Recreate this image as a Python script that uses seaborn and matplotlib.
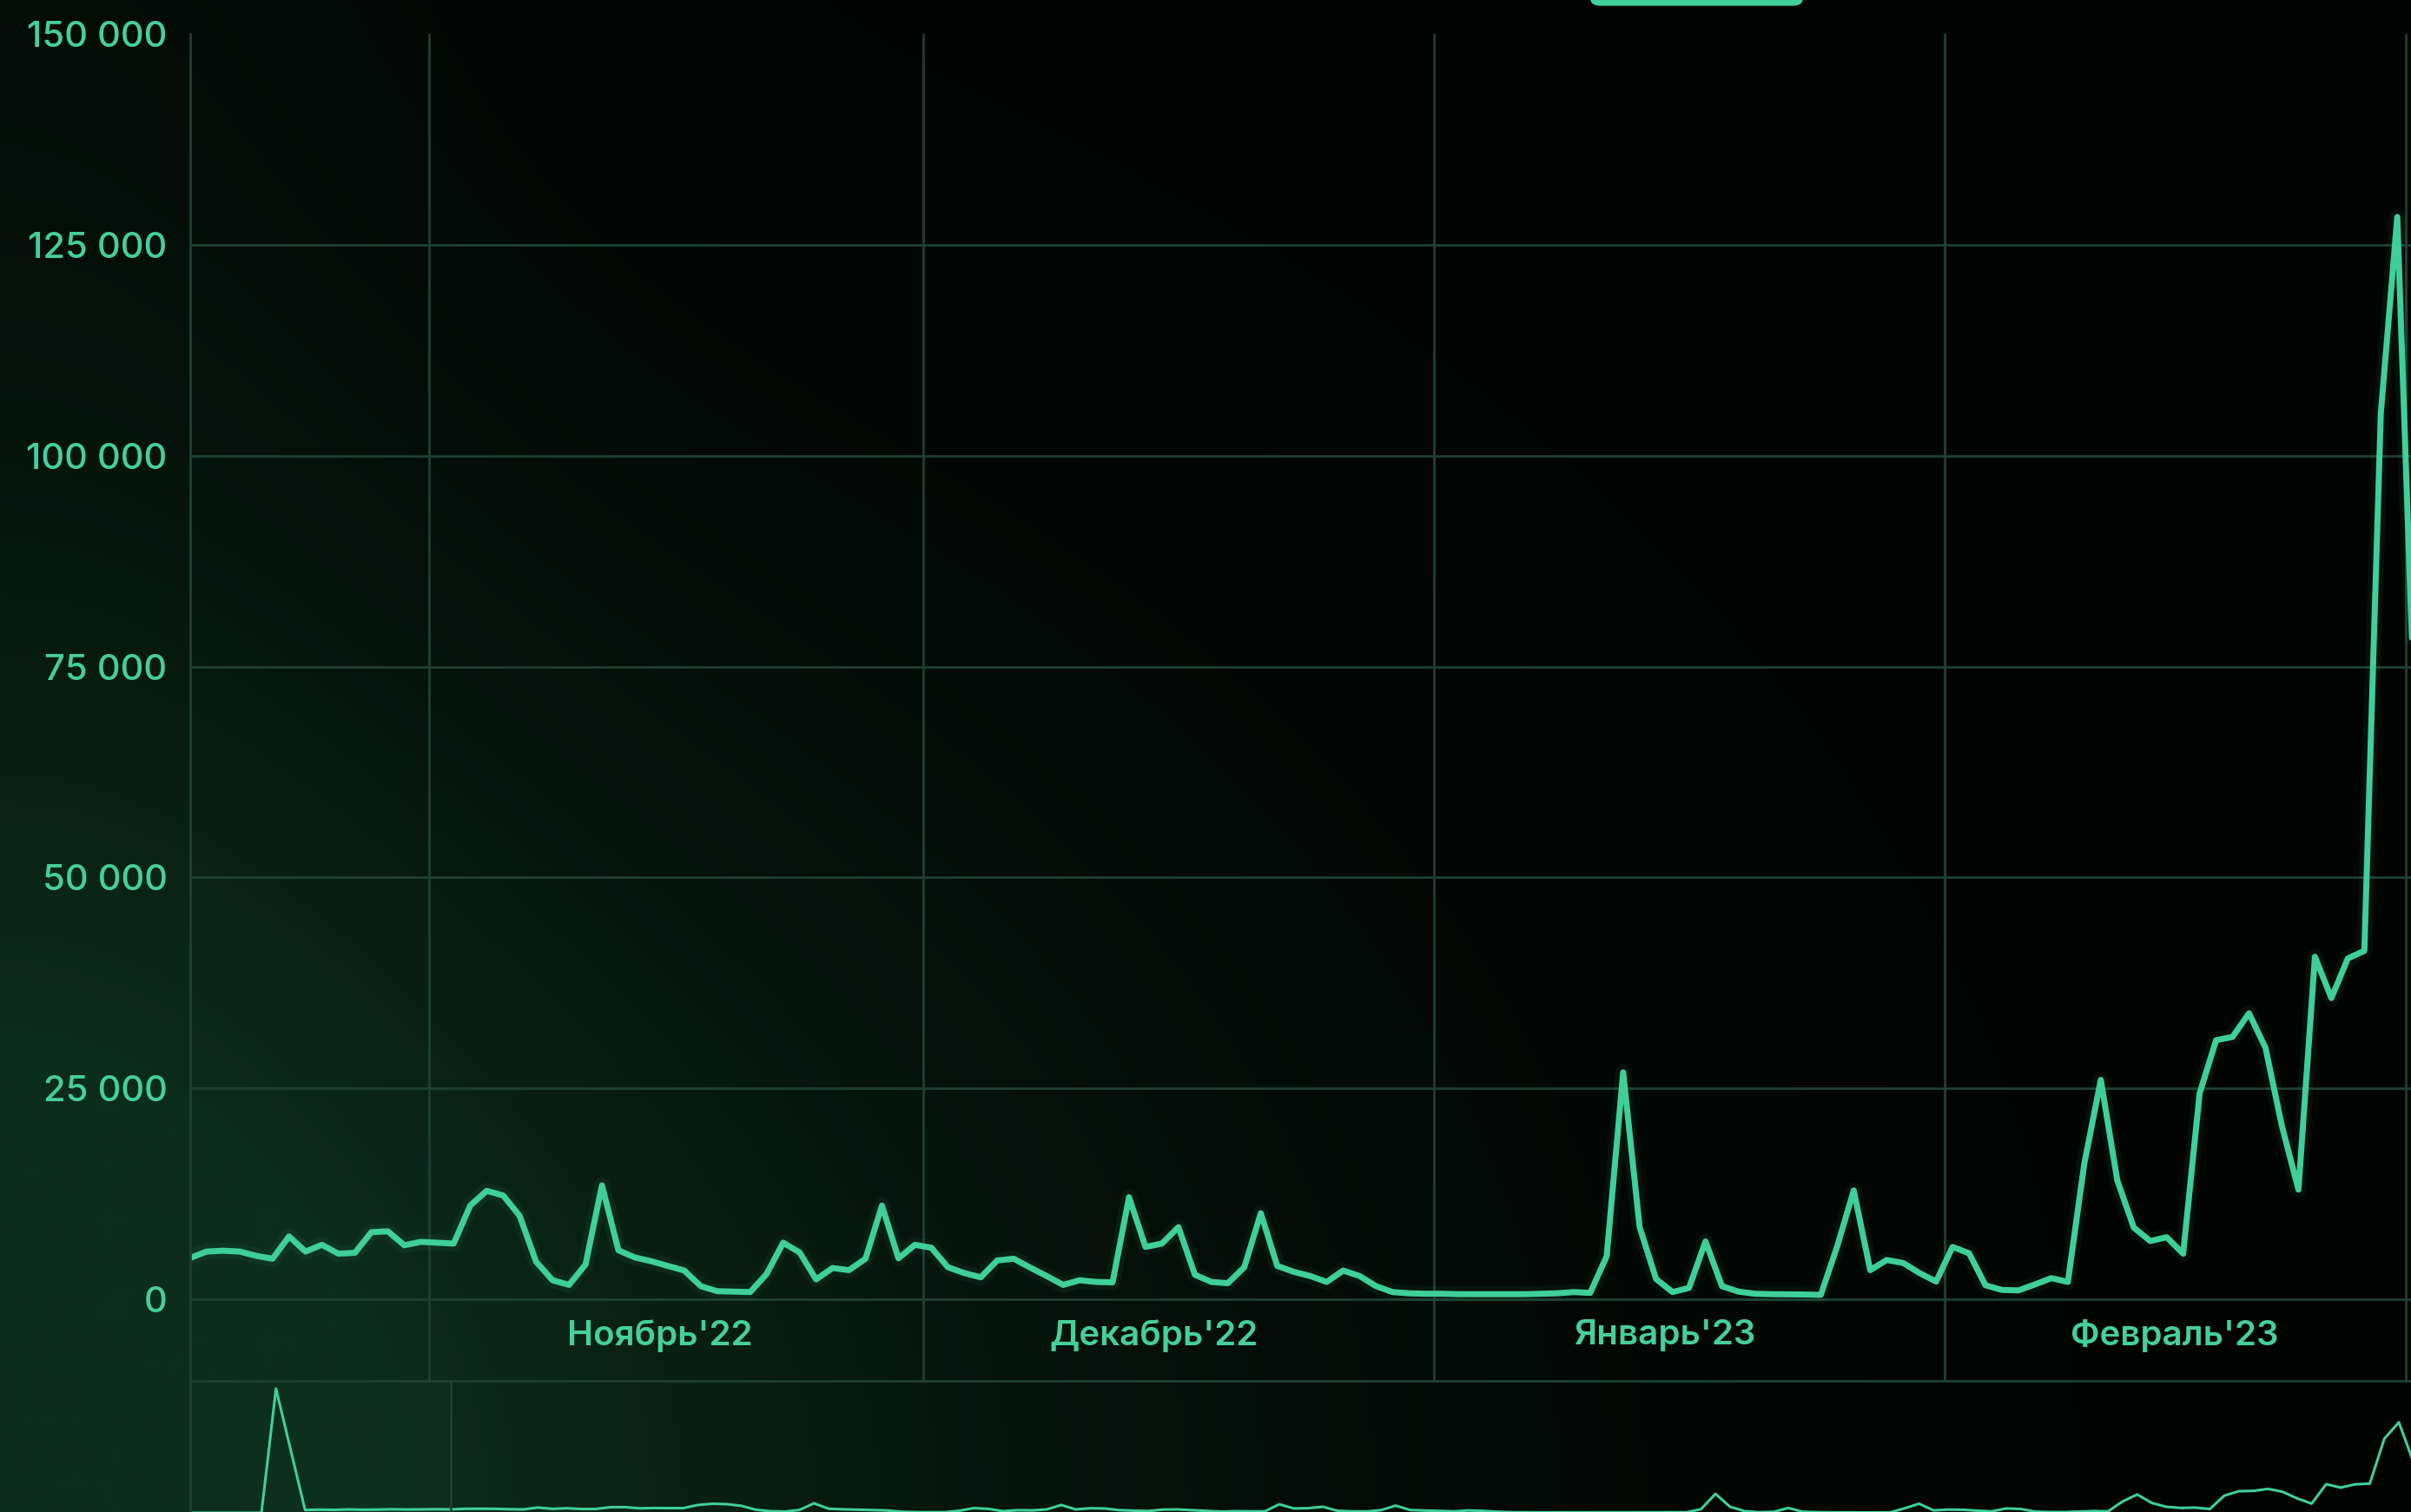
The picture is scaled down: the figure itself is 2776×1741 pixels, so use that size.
import numpy as np
import pandas as pd
import matplotlib
matplotlib.use("Agg")
import matplotlib.pyplot as plt
import matplotlib.ticker as mticker
from matplotlib.patches import FancyBboxPatch
import seaborn as sns

# Дневные значения (основной график), первый день 17.10.2022
start_date = "2022-10-17 12:00"
values = [
    4900, 5650, 5750, 5650, 5150, 4800, 7450, 5650, 6450, 5400,
    5500, 7950, 8050, 6400, 6800, 6700, 6600, 11100, 12850, 12300,
    9900, 4450, 2250, 1700, 4100, 13500, 5800, 4950, 4500, 3950,
    3400, 1550, 950, 900, 850, 3000, 6700, 5550, 2350, 3700,
    3450, 4800, 11100, 4850, 6450, 6100, 3800, 3100, 2600, 4600,
    4800, 3750, 2750, 1700, 2250, 2050, 2000, 12100, 6200, 6600,
    8550, 2900, 2050, 1900, 3800, 10200, 3950, 3250, 2750, 2050,
    3400, 2750, 1550, 850, 700, 650, 650, 600, 600, 600,
    600, 600, 650, 700, 850, 750, 5100, 26900, 8550, 2400,
    850, 1350, 6850, 1550, 900, 650, 600, 580, 560, 520,
    6300, 12900, 3450, 4650, 4300, 3100, 2100, 6200, 5450, 1650,
    1100, 1050, 1750, 2500, 2050, 16100, 26000, 14100, 8500, 6900,
    7350, 5400, 24400, 30700, 31100, 33900, 29800, 20500, 13000, 40600,
    35700, 40400, 41300, 105000, 128300, 72000,
]

# Навигатор внизу: 18 дней до начала основного графика
nav_pre_values = [
    0, 0, 0, 0, 0, 0, 176000, 90000, 4000,
    4500, 4200, 4800, 4400, 4600, 5000, 4700, 4900, 5100,
]

y_ticks = [0, 25000, 50000, 75000, 100000, 125000, 150000]
month_starts = ["2022-11-01", "2022-12-01", "2023-01-01", "2023-02-01", "2023-03-01"]
month_label_dates = ["2022-11-15", "2022-12-15", "2023-01-15", "2023-02-15"]
month_labels = ["Ноябрь'22", "Декабрь'22", "Январь'23", "Февраль'23"]

# Цвета
line_c = "#3fcf9a"
text_c = "#45cf9e"
grid_c = "#1f4033"

W, H = 2776, 1741


def fmt_thousands(v, pos):
    return f"{int(v):,}".replace(",", " ")


def main():
    sns.set_theme(style="dark", rc={"axes.facecolor": "none", "figure.facecolor": "#020403"})
    plt.rcParams["font.family"] = ["Inter", "DejaVu Sans"]

    fig = plt.figure(figsize=(W / 100, H / 100), dpi=100)

    # фон с зелёным свечением слева снизу
    bg = fig.add_axes([0, 0, 1, 1], zorder=-5)
    u = np.linspace(0, 1, 555)[None, :]
    v = np.linspace(1, 0, 348)[:, None]
    w = np.exp(-((u / 0.45) ** 2 + (v / 0.55) ** 2)) + 0.3 * np.exp(-(u / 0.18) ** 2) * (1 - 0.4 * v)
    w = np.clip(w, 0, 1)
    base = np.array([2, 4, 3]) / 255
    glow = np.array([12, 44, 30]) / 255
    rgb = base + (glow - base) * w[..., None]
    bg.imshow(rgb, aspect="auto", extent=[0, 1, 0, 1], interpolation="bilinear")
    bg.axis("off")

    dates = pd.date_range(start_date, periods=len(values), freq="D")
    df = pd.DataFrame({"date": dates, "value": values})

    pre_dates = pd.date_range(end=dates[0] - pd.Timedelta(days=1), periods=len(nav_pre_values), freq="D")
    df_nav = pd.DataFrame({
        "date": list(pre_dates) + list(dates),
        "value": nav_pre_values + values,
    })

    left = 219 / W
    bottom = 1 - 1590 / H
    top = 1 - 39 / H
    ax = fig.add_axes([left, bottom, 1 - left, top - bottom], zorder=1)

    # свечение + линия
    sns.lineplot(data=df, x="date", y="value", ax=ax, color=line_c, linewidth=13, alpha=0.06)
    sns.lineplot(data=df, x="date", y="value", ax=ax, color=line_c, linewidth=5)

    x_right = pd.Timestamp("2023-03-01 08:00")
    ax.set_xlim(dates[0], x_right)
    ax.set_ylim(-9677, 150000)
    ax.set_yticks(y_ticks)
    ax.yaxis.set_major_formatter(mticker.FuncFormatter(fmt_thousands))
    ax.set_xticks(pd.to_datetime(month_starts))
    ax.set_xticklabels([])
    ax.set_xlabel("")
    ax.set_ylabel("")
    ax.grid(True, color=grid_c, linewidth=2)
    ax.get_ygridlines()[-1].set_visible(False)
    ax.tick_params(axis="y", labelsize=30, labelcolor=text_c, length=0, pad=19)
    for t in ax.get_yticklabels():
        t.set_fontweight("medium")
    ax.tick_params(axis="x", length=0)

    for s in ["top", "right"]:
        ax.spines[s].set_visible(False)
    for s in ["left", "bottom"]:
        ax.spines[s].set_visible(True)
        ax.spines[s].set_color(grid_c)
        ax.spines[s].set_linewidth(2)

    for d, lab in zip(month_label_dates, month_labels):
        ax.text(pd.Timestamp(d), -4320, lab, ha="center", va="center",
                fontsize=29, fontweight="semibold", color=text_c)

    # навигатор (обрезан снизу)
    nav = fig.add_axes([left, -0.02, 1 - left, bottom + 0.02], zorder=1)
    sns.lineplot(data=df_nav, x="date", y="value", ax=nav, color=line_c, linewidth=2.2)
    nav_left = dates[0] - pd.Timedelta(days=17.9)
    nav.set_xlim(nav_left, x_right)
    nav.set_ylim(-41700, 187000)
    nav.axvspan(nav_left, dates[0], color="white", alpha=0.012, linewidth=0)
    nav.axvline(dates[0], color=grid_c, linewidth=2)
    nav.set_xticks([])
    nav.set_yticks([])
    nav.set_xlabel("")
    nav.set_ylabel("")
    nav.grid(False)
    for s in ["top", "right", "bottom"]:
        nav.spines[s].set_visible(False)
    nav.spines["left"].set_visible(True)
    nav.spines["left"].set_color(grid_c)
    nav.spines["left"].set_linewidth(2)

    # зелёная кнопка сверху (обрезана)
    btn = FancyBboxPatch((1832 / W, 1 - 6 / H), 243 / W, 0.03,
                         boxstyle="round,pad=0,rounding_size=0.004",
                         transform=fig.transFigure, color=line_c, zorder=3)
    fig.patches.append(btn)

    fig.savefig("out.png", dpi=100)
    plt.close(fig)


if __name__ == "__main__":
    main()
